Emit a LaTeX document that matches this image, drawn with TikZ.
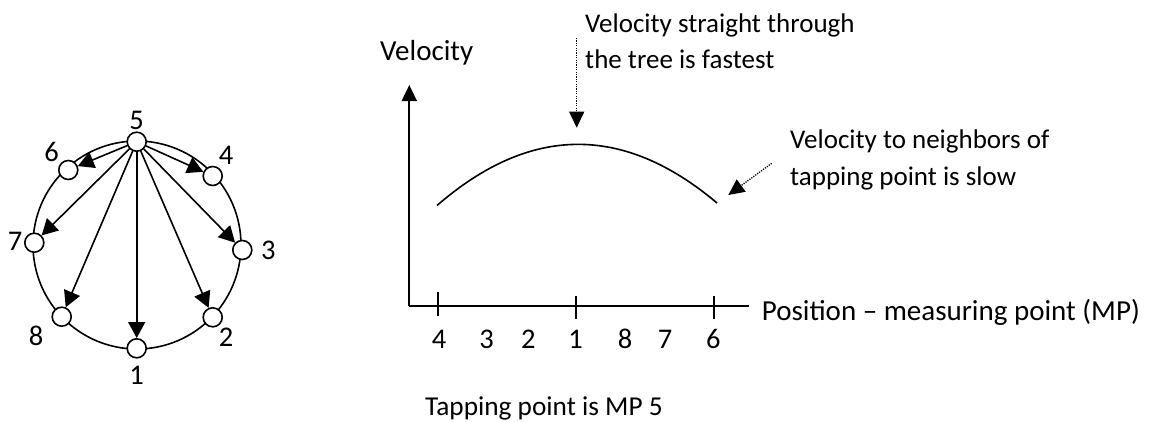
\documentclass[tikz,border=0pt]{standalone}
\usepackage{fontspec}
\setmainfont{Carlito}
\usetikzlibrary{arrows.meta}
\tikzset{
  mp/.style={circle, draw, fill=white, minimum size=19pt, inner sep=0pt, line width=1.6pt},
  lbl/.style={inner sep=0pt, font=\fontsize{28.5}{36}\selectfont},
  txt/.style={inner sep=0pt, anchor=base west, font=\fontsize{29}{36}\selectfont},
  note/.style={inner sep=0pt, anchor=base west, font=\fontsize{27}{36}\selectfont},
  arr/.style={line width=1.6pt, -{Triangle[length=16pt,width=17pt]}},
  dotarr/.style={line width=1.3pt, dash pattern=on 1.2pt off 1.2pt, -{Triangle[length=16pt,width=15pt]}},
  axis/.style={line width=1.8pt},
}
\begin{document}
\begin{tikzpicture}[x=1pt,y=-1pt]
\useasboundingbox (0,0) rectangle (1149,421);
% ring
\draw[line width=1.6pt] (137,245) circle (104);
\node[mp] (n5) at (136.7,141.7) {};
\node[mp] (n4) at (212.7,176) {};
\node[mp] (n3) at (242.3,250) {};
\node[mp] (n2) at (212.7,317.3) {};
\node[mp] (n1) at (136.7,348.3) {};
\node[mp] (n8) at (61.7,316.7) {};
\node[mp] (n7) at (34.3,242.7) {};
\node[mp] (n6) at (68.3,170) {};
\foreach \t in {n6,n4,n7,n3,n8,n2,n1}{\draw[arr] (n5) -- (\t);}
\node[lbl] (l5) at (136.7,120) {5};
\node[lbl] (l6) at (51.7,152) {6};
\node[lbl] (l4) at (226,155) {4};
\node[lbl] (l7) at (15,241) {7};
\node[lbl] (l3) at (268.3,250) {3};
\node[lbl] (l8) at (36,336) {8};
\node[lbl] (l2) at (226,337) {2};
\node[lbl] (l1) at (136.7,375) {1};
% axes
\coordinate (O) at (409.3,306);
\coordinate (ytop) at (409.3,85);
\coordinate (xend) at (749,306);
\draw[axis, -{Triangle[length=16pt,width=15pt]}] (O) -- (ytop);
\draw[axis] (O) -- (xend);
\coordinate (t4) at (438.3,306);
\coordinate (t1) at (575.7,306);
\coordinate (t6) at (714.3,306);
\draw[axis] ([yshift=14pt]t4) -- ([yshift=-10pt]t4);
\draw[axis] ([yshift=10pt]t1) -- ([yshift=-13pt]t1);
\draw[axis] ([yshift=10pt]t6) -- ([yshift=-13pt]t6);
% curve
\coordinate (cs) at (437,205.5);
\coordinate (ce) at (717,203);
\draw[line width=1.6pt] (cs) .. controls (530.1,124.7) and (623.5,124.1) .. (ce);
% tick labels
\node[lbl] (x4) at (439,339) {4};
\node[lbl] (x3) at (486.7,339) {3};
\node[lbl] (x2) at (528.3,339) {2};
\node[lbl] (x1) at (575.7,339) {1};
\node[lbl] (x8) at (625,339) {8};
\node[lbl] (x7) at (665,339) {7};
\node[lbl] (x6) at (713.3,339) {6};
% texts
\node[txt] (vel) at (380,60) {Velocity};
\node[note] (fast1) at (585,32) {Velocity straight through};
\node[note] (fast2) at (585,68) {the tree is fastest};
\node[note] (slow1) at (790,148.3) {Velocity to neighbors of};
\node[note] (slow2) at (790,185) {tapping point is slow};
\node[txt] (pos) at (761.7,320) {Position -- measuring point (MP)};
\node[note, font=\fontsize{27.3}{36}\selectfont] (tap) at (425,415) {Tapping point is MP 5};
% dotted arrows
\coordinate (d1s) at (576.7,38);
\coordinate (d1e) at (576.7,127.7);
\draw[dotarr] (d1s) -- (d1e);
\coordinate (d2s) at (771.7,163.3);
\coordinate (d2e) at (728.3,195);
\draw[dotarr] (d2s) -- (d2e);
\end{tikzpicture}
\end{document}
